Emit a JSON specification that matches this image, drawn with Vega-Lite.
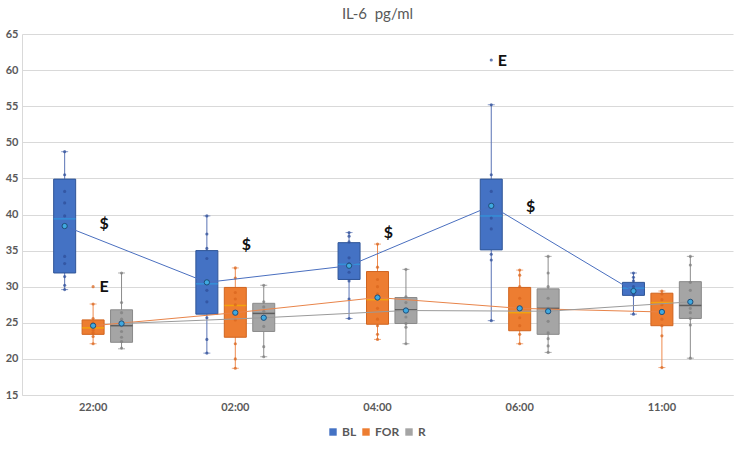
{
  "$schema": "https://vega.github.io/schema/vega-lite/v6.json",
  "width": 711,
  "height": 361,
  "autosize": {"type": "none"},
  "padding": {"left": 22, "top": 34, "right": 7, "bottom": 55},
  "background": "white",
  "config": {
    "font": "Lato",
    "view": {"stroke": null},
    "axis": {"labelColor": "#595959", "labelFont": "Lato", "labelFontSize": 11, "labelFontWeight": "bold", "gridColor": "#D9D9D9", "domainColor": "#D9D9D9", "ticks": false, "title": null},
    "axisY": {"tickCount": 11, "labelOverlap": false, "labelPadding": 4}
  },
  "title": {"text": "IL-6\u00a0 pg/ml", "fontSize": 15, "fontWeight": "normal", "color": "#595959", "font": "Lato", "offset": 6},
  "datasets": {
    "boxes": [
      {"time": "22:00", "group": "BL", "min": 29.6, "q1": 31.9, "median": 39.4, "q3": 44.9, "max": 48.7, "mean": 38.4},
      {"time": "22:00", "group": "FOR", "min": 22.1, "q1": 23.4, "median": 24.3, "q3": 25.4, "max": 27.6, "mean": 24.6},
      {"time": "22:00", "group": "R", "min": 21.4, "q1": 22.3, "median": 24.6, "q3": 26.8, "max": 31.9, "mean": 24.9},
      {"time": "02:00", "group": "BL", "min": 20.8, "q1": 26.2, "median": 30.4, "q3": 35.0, "max": 39.8, "mean": 30.6},
      {"time": "02:00", "group": "FOR", "min": 18.7, "q1": 23.0, "median": 27.4, "q3": 29.9, "max": 32.6, "mean": 26.4},
      {"time": "02:00", "group": "R", "min": 20.3, "q1": 23.8, "median": 26.3, "q3": 27.7, "max": 30.2, "mean": 25.7},
      {"time": "04:00", "group": "BL", "min": 25.6, "q1": 31.0, "median": 33.1, "q3": 36.1, "max": 37.5, "mean": 32.9},
      {"time": "04:00", "group": "FOR", "min": 22.7, "q1": 24.8, "median": 28.2, "q3": 32.1, "max": 35.9, "mean": 28.5},
      {"time": "04:00", "group": "R", "min": 22.1, "q1": 24.9, "median": 26.8, "q3": 28.5, "max": 32.4, "mean": 26.7},
      {"time": "06:00", "group": "BL", "min": 25.3, "q1": 35.1, "median": 39.8, "q3": 44.9, "max": 55.2, "mean": 41.2},
      {"time": "06:00", "group": "FOR", "min": 22.1, "q1": 23.9, "median": 26.4, "q3": 29.9, "max": 32.3, "mean": 27.0},
      {"time": "06:00", "group": "R", "min": 20.9, "q1": 23.4, "median": 27.0, "q3": 29.7, "max": 34.2, "mean": 26.6},
      {"time": "11:00", "group": "BL", "min": 26.2, "q1": 28.8, "median": 29.8, "q3": 30.6, "max": 31.9, "mean": 29.4},
      {"time": "11:00", "group": "FOR", "min": 18.8, "q1": 24.6, "median": 27.8, "q3": 29.1, "max": 29.4, "mean": 26.5},
      {"time": "11:00", "group": "R", "min": 20.1, "q1": 25.6, "median": 27.4, "q3": 30.7, "max": 34.2, "mean": 27.9}
    ],
    "points": [
      {"time": "22:00", "group": "BL", "v": 48.7}, {"time": "22:00", "group": "BL", "v": 45.5}, {"time": "22:00", "group": "BL", "v": 43.2}, {"time": "22:00", "group": "BL", "v": 41.6}, {"time": "22:00", "group": "BL", "v": 39.8}, {"time": "22:00", "group": "BL", "v": 34.2}, {"time": "22:00", "group": "BL", "v": 33.2}, {"time": "22:00", "group": "BL", "v": 31.4}, {"time": "22:00", "group": "BL", "v": 30.2}, {"time": "22:00", "group": "BL", "v": 29.6},
      {"time": "22:00", "group": "FOR", "v": 30.0}, {"time": "22:00", "group": "FOR", "v": 27.6}, {"time": "22:00", "group": "FOR", "v": 25.6}, {"time": "22:00", "group": "FOR", "v": 25.0}, {"time": "22:00", "group": "FOR", "v": 24.5}, {"time": "22:00", "group": "FOR", "v": 24.0}, {"time": "22:00", "group": "FOR", "v": 23.6}, {"time": "22:00", "group": "FOR", "v": 23.1}, {"time": "22:00", "group": "FOR", "v": 22.1},
      {"time": "22:00", "group": "R", "v": 31.9}, {"time": "22:00", "group": "R", "v": 27.8}, {"time": "22:00", "group": "R", "v": 26.4}, {"time": "22:00", "group": "R", "v": 25.5}, {"time": "22:00", "group": "R", "v": 24.6}, {"time": "22:00", "group": "R", "v": 23.8}, {"time": "22:00", "group": "R", "v": 23.0}, {"time": "22:00", "group": "R", "v": 22.4}, {"time": "22:00", "group": "R", "v": 21.5},
      {"time": "02:00", "group": "BL", "v": 39.8}, {"time": "02:00", "group": "BL", "v": 37.3}, {"time": "02:00", "group": "BL", "v": 35.3}, {"time": "02:00", "group": "BL", "v": 33.9}, {"time": "02:00", "group": "BL", "v": 30.6}, {"time": "02:00", "group": "BL", "v": 29.5}, {"time": "02:00", "group": "BL", "v": 27.9}, {"time": "02:00", "group": "BL", "v": 25.7}, {"time": "02:00", "group": "BL", "v": 22.7}, {"time": "02:00", "group": "BL", "v": 20.8},
      {"time": "02:00", "group": "FOR", "v": 32.6}, {"time": "02:00", "group": "FOR", "v": 31.2}, {"time": "02:00", "group": "FOR", "v": 29.2}, {"time": "02:00", "group": "FOR", "v": 28.3}, {"time": "02:00", "group": "FOR", "v": 27.5}, {"time": "02:00", "group": "FOR", "v": 26.3}, {"time": "02:00", "group": "FOR", "v": 25.4}, {"time": "02:00", "group": "FOR", "v": 22.1}, {"time": "02:00", "group": "FOR", "v": 20.0}, {"time": "02:00", "group": "FOR", "v": 18.7},
      {"time": "02:00", "group": "R", "v": 30.2}, {"time": "02:00", "group": "R", "v": 27.9}, {"time": "02:00", "group": "R", "v": 27.2}, {"time": "02:00", "group": "R", "v": 26.6}, {"time": "02:00", "group": "R", "v": 25.8}, {"time": "02:00", "group": "R", "v": 24.5}, {"time": "02:00", "group": "R", "v": 21.7}, {"time": "02:00", "group": "R", "v": 20.3},
      {"time": "04:00", "group": "BL", "v": 37.5}, {"time": "04:00", "group": "BL", "v": 37.0}, {"time": "04:00", "group": "BL", "v": 36.2}, {"time": "04:00", "group": "BL", "v": 34.0}, {"time": "04:00", "group": "BL", "v": 33.2}, {"time": "04:00", "group": "BL", "v": 32.0}, {"time": "04:00", "group": "BL", "v": 30.8}, {"time": "04:00", "group": "BL", "v": 28.3}, {"time": "04:00", "group": "BL", "v": 25.6},
      {"time": "04:00", "group": "FOR", "v": 35.9}, {"time": "04:00", "group": "FOR", "v": 32.7}, {"time": "04:00", "group": "FOR", "v": 31.0}, {"time": "04:00", "group": "FOR", "v": 30.0}, {"time": "04:00", "group": "FOR", "v": 29.0}, {"time": "04:00", "group": "FOR", "v": 27.0}, {"time": "04:00", "group": "FOR", "v": 25.5}, {"time": "04:00", "group": "FOR", "v": 24.6}, {"time": "04:00", "group": "FOR", "v": 23.4}, {"time": "04:00", "group": "FOR", "v": 22.7},
      {"time": "04:00", "group": "R", "v": 32.4}, {"time": "04:00", "group": "R", "v": 28.6}, {"time": "04:00", "group": "R", "v": 27.8}, {"time": "04:00", "group": "R", "v": 26.9}, {"time": "04:00", "group": "R", "v": 25.8}, {"time": "04:00", "group": "R", "v": 24.9}, {"time": "04:00", "group": "R", "v": 24.4}, {"time": "04:00", "group": "R", "v": 22.1},
      {"time": "06:00", "group": "BL", "v": 61.4}, {"time": "06:00", "group": "BL", "v": 55.2}, {"time": "06:00", "group": "BL", "v": 45.5}, {"time": "06:00", "group": "BL", "v": 43.2}, {"time": "06:00", "group": "BL", "v": 41.0}, {"time": "06:00", "group": "BL", "v": 39.5}, {"time": "06:00", "group": "BL", "v": 38.0}, {"time": "06:00", "group": "BL", "v": 34.5}, {"time": "06:00", "group": "BL", "v": 33.7}, {"time": "06:00", "group": "BL", "v": 25.3},
      {"time": "06:00", "group": "FOR", "v": 32.3}, {"time": "06:00", "group": "FOR", "v": 31.6}, {"time": "06:00", "group": "FOR", "v": 30.0}, {"time": "06:00", "group": "FOR", "v": 28.4}, {"time": "06:00", "group": "FOR", "v": 27.0}, {"time": "06:00", "group": "FOR", "v": 25.7}, {"time": "06:00", "group": "FOR", "v": 24.6}, {"time": "06:00", "group": "FOR", "v": 23.4}, {"time": "06:00", "group": "FOR", "v": 22.1},
      {"time": "06:00", "group": "R", "v": 34.2}, {"time": "06:00", "group": "R", "v": 31.9}, {"time": "06:00", "group": "R", "v": 30.0}, {"time": "06:00", "group": "R", "v": 28.4}, {"time": "06:00", "group": "R", "v": 27.0}, {"time": "06:00", "group": "R", "v": 25.2}, {"time": "06:00", "group": "R", "v": 23.6}, {"time": "06:00", "group": "R", "v": 22.8}, {"time": "06:00", "group": "R", "v": 21.8}, {"time": "06:00", "group": "R", "v": 20.9},
      {"time": "11:00", "group": "BL", "v": 31.9}, {"time": "11:00", "group": "BL", "v": 31.3}, {"time": "11:00", "group": "BL", "v": 30.8}, {"time": "11:00", "group": "BL", "v": 30.0}, {"time": "11:00", "group": "BL", "v": 29.5}, {"time": "11:00", "group": "BL", "v": 29.0}, {"time": "11:00", "group": "BL", "v": 28.8}, {"time": "11:00", "group": "BL", "v": 26.2},
      {"time": "11:00", "group": "FOR", "v": 29.4}, {"time": "11:00", "group": "FOR", "v": 29.0}, {"time": "11:00", "group": "FOR", "v": 28.2}, {"time": "11:00", "group": "FOR", "v": 27.5}, {"time": "11:00", "group": "FOR", "v": 26.6}, {"time": "11:00", "group": "FOR", "v": 25.5}, {"time": "11:00", "group": "FOR", "v": 24.6}, {"time": "11:00", "group": "FOR", "v": 23.2}, {"time": "11:00", "group": "FOR", "v": 18.8},
      {"time": "11:00", "group": "R", "v": 34.2}, {"time": "11:00", "group": "R", "v": 33.0}, {"time": "11:00", "group": "R", "v": 30.6}, {"time": "11:00", "group": "R", "v": 29.5}, {"time": "11:00", "group": "R", "v": 28.0}, {"time": "11:00", "group": "R", "v": 27.0}, {"time": "11:00", "group": "R", "v": 26.4}, {"time": "11:00", "group": "R", "v": 25.6}, {"time": "11:00", "group": "R", "v": 24.7}, {"time": "11:00", "group": "R", "v": 20.1}
    ],
    "notes": [
      {"time": "22:00", "group": "FOR", "y": 38.7, "label": "$"},
      {"time": "02:00", "group": "FOR", "y": 35.8, "label": "$"},
      {"time": "04:00", "group": "FOR", "y": 37.4, "label": "$"},
      {"time": "06:00", "group": "FOR", "y": 41.0, "label": "$"},
      {"time": "22:00", "group": "FOR", "y": 30.0, "label": "E"},
      {"time": "06:00", "group": "BL", "y": 61.3, "label": "E"}
    ]
  },
  "encoding": {
    "x": {"field": "time", "type": "nominal", "sort": ["22:00", "02:00", "04:00", "06:00", "11:00"],
      "scale": {"paddingInner": 0, "paddingOuter": 0},
      "axis": {"labelAngle": 0, "labelPadding": 6, "domain": true, "grid": false}},
    "xOffset": {"field": "group", "type": "nominal", "scale": {"domain": ["BL", "FOR", "R"], "paddingInner": 0, "paddingOuter": 1.46}}
  },
  "layer": [
    {
      "data": {"name": "boxes"},
      "mark": {"type": "rule", "strokeWidth": 1},
      "encoding": {
        "y": {"field": "min", "type": "quantitative", "scale": {"domain": [15, 65]}, "axis": {"values": [15, 20, 25, 30, 35, 40, 45, 50, 55, 60, 65], "labelOverlap": false, "domain": true, "grid": true}},
        "y2": {"field": "max"},
        "color": {"field": "group", "type": "nominal", "scale": {"domain": ["BL", "FOR", "R"], "range": ["#5A73B5", "#EE8A4E", "#8C8C8C"]}, "legend": null}
      }
    },
    {
      "data": {"name": "boxes"},
      "mark": {"type": "tick", "thickness": 1, "size": 7},
      "encoding": {
        "y": {"field": "min", "type": "quantitative"},
        "color": {"field": "group", "type": "nominal", "scale": {"domain": ["BL", "FOR", "R"], "range": ["#5A73B5", "#EE8A4E", "#8C8C8C"]}, "legend": null}
      }
    },
    {
      "data": {"name": "boxes"},
      "mark": {"type": "tick", "thickness": 1, "size": 7},
      "encoding": {
        "y": {"field": "max", "type": "quantitative"},
        "color": {"field": "group", "type": "nominal", "scale": {"domain": ["BL", "FOR", "R"], "range": ["#5A73B5", "#EE8A4E", "#8C8C8C"]}, "legend": null}
      }
    },
    {
      "data": {"name": "boxes"},
      "mark": {"type": "bar", "size": 22, "strokeWidth": 1},
      "encoding": {
        "y": {"field": "q1", "type": "quantitative"},
        "y2": {"field": "q3"},
        "fill": {"field": "group", "type": "nominal", "scale": {"domain": ["BL", "FOR", "R"], "range": ["#4472C4", "#ED7D31", "#A5A5A5"]},
          "legend": {"orient": "none", "legendX": 305, "legendY": 392, "direction": "horizontal", "title": null, "symbolType": "square", "symbolSize": 55, "labelFontSize": 12, "labelFontWeight": "bold", "labelColor": "#595959", "labelFont": "Lato", "columnPadding": 3, "labelOffset": 3, "symbolStrokeWidth": 0}},
        "stroke": {"field": "group", "type": "nominal", "scale": {"domain": ["BL", "FOR", "R"], "range": ["#2F5597", "#D0641F", "#8A8A8A"]}, "legend": null}
      }
    },
    {
      "data": {"name": "boxes"},
      "mark": {"type": "tick", "thickness": 1.5, "size": 22},
      "encoding": {
        "y": {"field": "median", "type": "quantitative"},
        "color": {"field": "group", "type": "nominal", "scale": {"domain": ["BL", "FOR", "R"], "range": ["#2E9BE0", "#F5B400", "#404040"]}, "legend": null}
      }
    },
    {
      "data": {"name": "points"},
      "mark": {"type": "circle", "size": 10, "opacity": 0.75},
      "encoding": {
        "y": {"field": "v", "type": "quantitative"},
        "color": {"field": "group", "type": "nominal", "scale": {"domain": ["BL", "FOR", "R"], "range": ["#2F4F9A", "#D9651E", "#7F7F7F"]}, "legend": null}
      }
    },
    {
      "data": {"name": "boxes"},
      "mark": {"type": "line", "strokeWidth": 1},
      "encoding": {
        "y": {"field": "mean", "type": "quantitative"},
        "color": {"field": "group", "type": "nominal", "scale": {"domain": ["BL", "FOR", "R"], "range": ["#4A6FBF", "#E8844A", "#9A9A9A"]}, "legend": null}
      }
    },
    {
      "data": {"name": "boxes"},
      "mark": {"type": "point", "shape": "circle", "size": 28, "filled": true, "fill": "#3FA9E0", "stroke": "#1F4E79", "strokeWidth": 1, "opacity": 1},
      "encoding": {
        "y": {"field": "mean", "type": "quantitative"}
      }
    },
    {
      "data": {"name": "notes"},
      "mark": {"type": "text", "fontSize": 16, "fontWeight": "bold", "color": "#111111", "align": "center", "baseline": "middle", "dx": 11, "font": "Lato"},
      "encoding": {
        "y": {"field": "y", "type": "quantitative"},
        "text": {"field": "label"}
      }
    }
  ],
  "resolve": {"scale": {"color": "independent"}}
}
